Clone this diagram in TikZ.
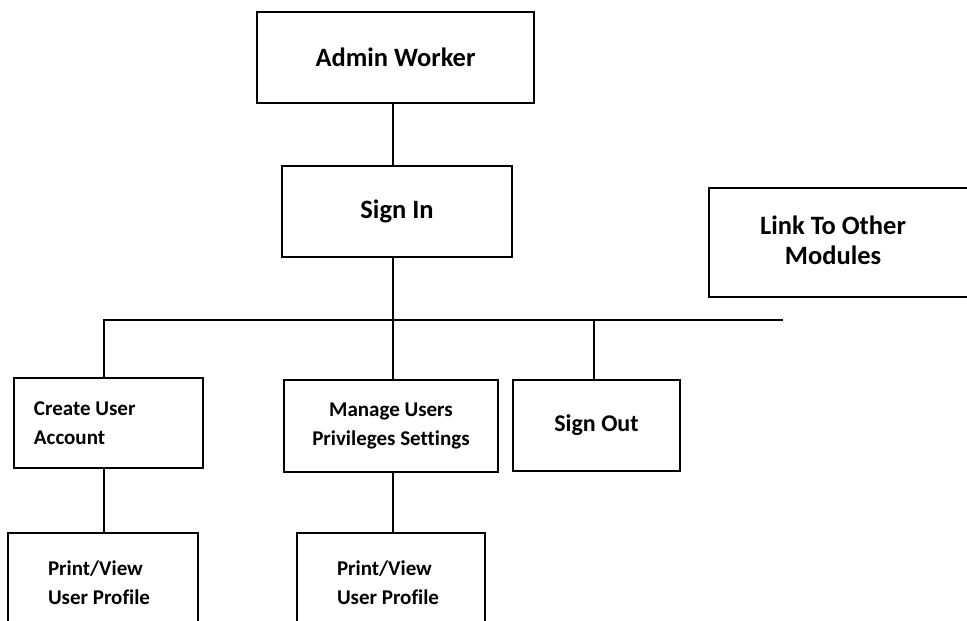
\documentclass[tikz,border=0pt]{standalone}
\usepackage{fontspec}
\setmainfont{Carlito}[Ligatures=CommonOff]
\begin{document}
\begin{tikzpicture}[x=1pt, y=-1pt,
  box/.style={draw, line width=2.8pt, inner sep=0pt},
  wire/.style={line width=2.8pt, line join=miter},
  bigtext/.style={font=\bfseries\fontsize{26.5}{30}\selectfont},
  midtext/.style={font=\bfseries\fontsize{24}{29}\selectfont},
  smalltext/.style={font=\bfseries\fontsize{21}{29}\selectfont}]
\useasboundingbox (0,0) rectangle (967,621);
\clip (0,0) rectangle (967,621);

% top of the hierarchy
\node[box, bigtext, minimum width=277pt, minimum height=91pt] (admin) at (395.5,57.5) {Admin Worker};
\node[box, bigtext, minimum width=230pt, minimum height=91pt] (signin) at (397,211.5) {Sign In};

% side box, running off the right edge
\node[box, minimum width=290pt, minimum height=109pt] (link) at (854,242.5) {};
\node[bigtext, align=center, inner sep=0pt] (linktext) at (833,240) {Link To Other\\Modules};

% second level
\node[box, smalltext, minimum width=189pt, minimum height=90pt, text width=149pt, align=flush left] (create) at (108.5,423) {Create User\\Account};
\node[box, smalltext, minimum width=214pt, minimum height=92pt, align=center] (manage) at (391,426) {Manage Users\\Privileges Settings};
\node[box, midtext, minimum width=167pt, minimum height=91pt] (signout) at (596.5,425.5) {Sign Out};

% third level, cut by the bottom edge
\node[box, smalltext, minimum width=190pt, minimum height=100pt, text width=110pt, align=flush left] (print1) at (103,583) {Print/View\\User Profile};
\node[box, smalltext, minimum width=188pt, minimum height=100pt, text width=108pt, align=flush left] (print2) at (391,583) {Print/View\\User Profile};

% bus and junctions
\coordinate (busL) at (104,320);
\coordinate (busR) at (783,320);
\coordinate (j1) at (393,320);
\coordinate (j3) at (594,320);

\draw[wire] (admin.south -| j1) -- (signin.north -| j1);
\draw[wire] (signin.south -| j1) -- (j1);
\draw[wire] (create.north -| busL) -- (busL) -- (busR);
\draw[wire] (j1) -- (manage.north -| j1);
\draw[wire] (j3) -- (signout.north -| j3);
\draw[wire] (create.south -| busL) -- (print1.north -| busL);
\draw[wire] (manage.south -| j1) -- (print2.north -| j1);
\end{tikzpicture}
\end{document}
